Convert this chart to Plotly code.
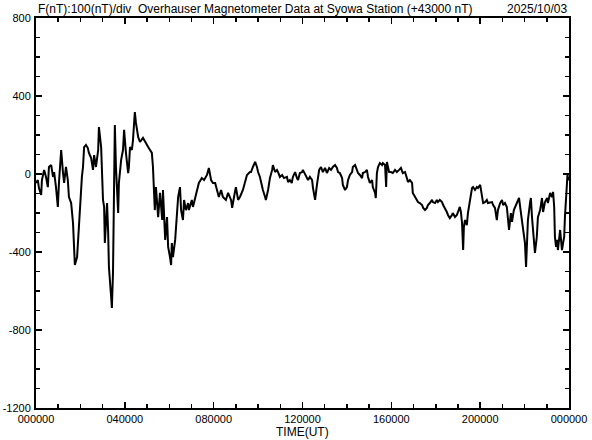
import plotly.graph_objects as go

# time (minutes from 00:00 UT) and total-field deviation (nT, relative to 43000 nT)
time_min = [0, 5, 8, 14, 16, 22, 27, 32, 35, 41, 46, 49, 54, 59, 62, 68, 73, 76, 81, 86,
            89, 95, 100, 103, 105, 111, 116, 119, 124, 127, 130, 135, 140, 143, 149, 154, 157, 162, 168, 170,
            176, 181, 184, 186, 192, 195, 197, 203, 205, 208, 211, 213, 216, 222, 224, 230, 235, 238, 243, 249,
            251, 254, 259, 262, 267, 270, 276, 281, 289, 294, 297, 303, 308, 313, 316, 319, 321, 324, 327, 330,
            335, 341, 343, 346, 349, 354, 357, 362, 365, 367, 370, 376, 381, 384, 389, 392, 397, 400, 405, 411,
            413, 421, 424, 430, 435, 440, 448, 454, 462, 467, 473, 478, 484, 489, 494, 500, 505, 513, 519, 527,
            530, 535, 540, 546, 551, 559, 565, 570, 578, 581, 586, 592, 597, 600, 605, 611, 613, 619, 621, 627,
            629, 632, 638, 640, 646, 651, 654, 659, 665, 670, 678, 681, 686, 691, 694, 700, 705, 708, 713, 719,
            721, 727, 732, 735, 740, 746, 748, 754, 759, 762, 765, 770, 775, 781, 786, 792, 797, 802, 808, 813,
            816, 821, 827, 829, 835, 840, 843, 848, 854, 856, 862, 867, 870, 875, 881, 883, 889, 894, 897, 902,
            908, 910, 916, 918, 921, 924, 929, 935, 937, 943, 946, 948, 954, 959, 964, 970, 975, 981, 986, 991,
            997, 1002, 1005, 1010, 1016, 1018, 1024, 1029, 1032, 1037, 1043, 1046, 1051, 1056, 1059, 1064, 1070, 1072, 1078, 1083,
            1086, 1091, 1097, 1100, 1105, 1110, 1113, 1118, 1124, 1126, 1132, 1137, 1140, 1145, 1148, 1151, 1154, 1156, 1159, 1164,
            1167, 1172, 1178, 1181, 1186, 1191, 1194, 1200, 1205, 1208, 1213, 1218, 1221, 1227, 1232, 1235, 1240, 1245, 1248, 1254,
            1259, 1262, 1267, 1272, 1275, 1278, 1283, 1286, 1291, 1297, 1299, 1305, 1308, 1313, 1316, 1321, 1324, 1327, 1329, 1335,
            1337, 1340, 1345, 1348, 1353, 1356, 1362, 1367, 1370, 1375, 1381, 1383, 1389, 1394, 1397, 1400, 1402, 1405, 1408, 1410,
            1416, 1418, 1421, 1424, 1427, 1429, 1432, 1434, 1436, 1437, 1440]

field_nT = [-46, -31, -72, -108, -31, 21, -15, -67, 36, 46, -15, 10, -67, -169, -46, 123, 5, -46, 36, -31,
            -118, -149, -251, -390, -467, -426, -272, -133, -15, 36, 138, 149, 133, 108, 82, 21, 97, 36, 123, 241,
            138, -133, -169, -354, -149, -303, -477, -631, -687, -508, -133, 251, 36, -200, -46, 72, 123, 226, 108, 5,
            36, 138, 123, 174, 318, 262, 190, 164, 185, 164, 159, 138, 123, 108, 36, -67, -185, -67, -133, -221,
            -97, -236, -82, -185, -338, -221, -374, -426, -467, -354, -426, -338, -169, -118, -67, -185, -236, -133, -185, -149,
            -185, -133, -169, -118, -82, -46, -21, -31, -5, 31, -31, -46, -46, -82, -118, -82, -118, -133, -97, -133,
            -174, -118, -67, -133, -118, -82, -46, -5, 10, 10, 36, 62, 36, 10, -15, -67, -82, -118, -133, -82,
            -46, -21, 21, 46, 10, 21, 10, -15, -5, -21, -15, -41, -31, -46, -15, 10, -21, -31, 5, 10,
            21, -5, -21, -31, -15, -31, -67, -133, -56, -15, 21, 36, 10, 31, 5, 31, 21, 36, 46, 31,
            10, 5, -21, -56, -82, -67, -31, -5, 10, 36, 46, 21, 5, -5, -21, 5, 10, 21, -15, -46,
            -31, -67, -97, -123, 5, 36, 56, 46, 56, 46, -67, 62, 10, 10, 5, 21, 10, 21, 31, 5,
            10, -21, -41, -31, -46, -97, -118, -133, -144, -149, -159, -174, -185, -174, -159, -149, -133, -144, -149, -133,
            -144, -133, -144, -159, -174, -195, -210, -226, -210, -200, -221, -210, -195, -169, -195, -251, -390, -272, -236, -262,
            -200, -133, -72, -67, -82, -67, -72, -56, -118, -149, -144, -133, -149, -144, -144, -159, -174, -236, -185, -149,
            -133, -159, -149, -169, -236, -287, -200, -246, -185, -159, -144, -123, -169, -246, -287, -354, -477, -338, -236, -144,
            -123, -221, -323, -405, -323, -221, -185, -123, -195, -144, -123, -149, -97, -118, -92, -169, -323, -374, -338, -390,
            -287, -354, -390, -354, -323, -221, -133, -67, 0, -31, -15]

x_tickvals = [0, 240, 480, 720, 960, 1200, 1440]
x_ticktext = ["000000", "040000", "080000", "120000", "160000", "200000", "000000"]
y_tickvals = [800, 400, 0, -400, -800, -1200]
y_ticktext = ["800", "400", "0", "-400", "-800", "-1200"]

title_text = "F(nT):100(nT)/div  Overhauser Magnetometer Data at Syowa Station (+43000 nT)"
date_text = "2025/10/03"
xlabel_text = "TIME(UT)"

FONT = "Liberation Sans, Arial, sans-serif"

fig = go.Figure()
fig.add_trace(go.Scatter(x=time_min, y=field_nT, mode="lines",
                         line=dict(color="black", width=2), showlegend=False,
                         hoverinfo="skip"))

axis_common = dict(showgrid=False, zeroline=False, showline=True, linecolor="black",
                   linewidth=2, mirror="ticks", ticks="inside", tickcolor="black",
                   tickwidth=1.5, automargin=False,
                   tickfont=dict(family=FONT, size=11, color="black"))

fig.update_xaxes(range=[0, 1440], tickmode="array", tickvals=x_tickvals, ticktext=x_ticktext,
                 ticklen=6, minor=dict(dtick=60, tick0=0, ticks="inside", ticklen=4,
                                       tickcolor="black", tickwidth=1.5),
                 **axis_common)
fig.update_yaxes(range=[-1200, 800], tickmode="array", tickvals=y_tickvals, ticktext=y_ticktext,
                 ticklen=6, ticklabelstandoff=1,
                 minor=dict(dtick=100, tick0=0, ticks="inside", ticklen=4,
                            tickcolor="black", tickwidth=1.5),
                 **axis_common)

fig.add_annotation(text=title_text, xref="paper", yref="paper", x=0, y=1,
                   xanchor="left", yanchor="bottom", yshift=0, showarrow=False,
                   font=dict(family=FONT, size=12, color="black"))
fig.add_annotation(text=date_text, xref="paper", yref="paper", x=1, y=1,
                   xanchor="right", yanchor="bottom", yshift=0, showarrow=False,
                   font=dict(family=FONT, size=12, color="black"))
fig.add_annotation(text=xlabel_text, xref="paper", yref="paper", x=0.5, y=0,
                   xanchor="center", yanchor="top", yshift=-15, showarrow=False,
                   font=dict(family=FONT, size=12, color="black"))

fig.update_layout(width=592, height=440, margin=dict(l=36, r=23, t=18, b=32),
                  paper_bgcolor="white", plot_bgcolor="white", hovermode=False)

fig.write_html("out.html", config={"displayModeBar": False, "staticPlot": True},
               post_script="document.body.style.margin='0';document.body.style.overflow='hidden';")
